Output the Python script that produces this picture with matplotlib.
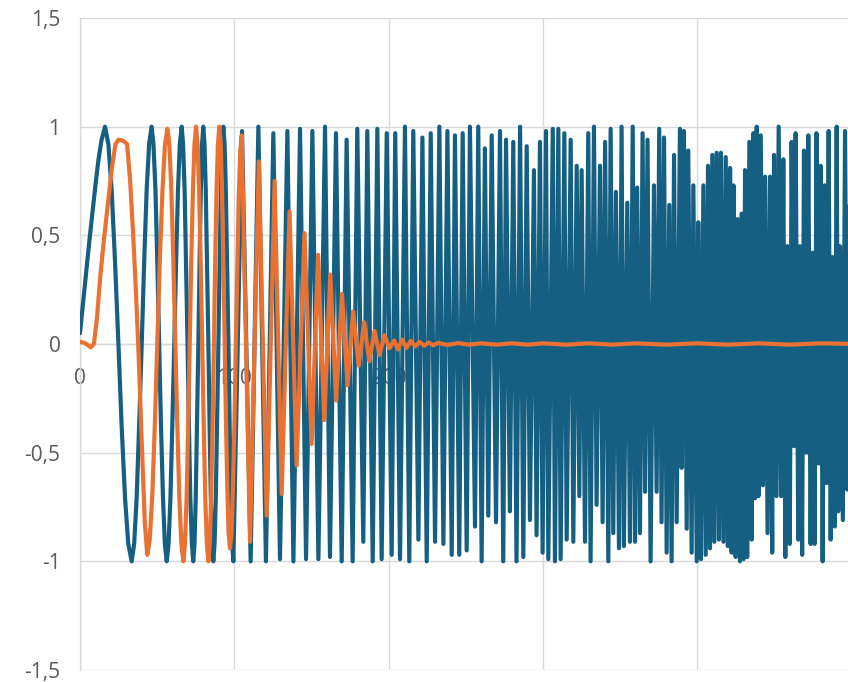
import numpy as np
import matplotlib
matplotlib.use("Agg")
import matplotlib.pyplot as plt

# axis ticks
x_ticks = [0, 100, 200, 300, 400, 500, 600]
x_tick_labels = ["0", "100", "200", "300", "400", "500", "600"]
y_ticks = [-1.5, -1, -0.5, 0, 0.5, 1, 1.5]
y_tick_labels = ["-1,5", "-1", "-0,5", "0", "0,5", "1", "1,5"]

# blue series, first slow cycles
blue_start_x = [0, 2, 4, 6, 8, 10, 12, 14, 16.2,
                18.4, 20.5, 22.7, 24.9, 27.0, 29.2, 31.3, 33.5,
                35.1, 36.7, 38.3, 40.0, 41.6, 43.2, 44.8, 46.4,
                47.6, 48.9, 50.1, 51.3, 52.5, 53.8, 55.0, 56.2,
                57.4, 58.6, 59.8, 61.1, 62.3, 63.5, 64.7, 65.9,
                66.8, 67.8, 68.7, 69.7, 70.6, 71.5, 72.5, 73.4,
                74.2, 75.0, 75.8, 76.7, 77.5, 78.3, 79.1, 79.9,
                80.7, 81.5, 82.3, 83.2, 84.0, 84.8, 85.6, 86.4,
                87.2, 88.0, 88.8, 89.7, 90.5, 91.3, 92.1, 92.9,
                93.7, 94.5, 95.3, 96.2, 97.0, 97.8, 98.6]
blue_start_y = [0.05, 0.19, 0.33, 0.47, 0.60, 0.73, 0.85, 0.94, 1.0,
                0.92, 0.71, 0.38, 0.0, -0.38, -0.71, -0.92, -1.0,
                -0.92, -0.71, -0.38, 0.0, 0.38, 0.71, 0.92, 1.0,
                0.92, 0.71, 0.38, 0.0, -0.38, -0.71, -0.92, -1.0,
                -0.92, -0.71, -0.38, 0.0, 0.38, 0.71, 0.92, 1.0,
                0.92, 0.71, 0.38, 0.0, -0.38, -0.71, -0.92, -1.0,
                -0.92, -0.71, -0.38, 0.0, 0.38, 0.71, 0.92, 1.0,
                0.92, 0.71, 0.38, 0.0, -0.38, -0.71, -0.92, -1.0,
                -0.92, -0.71, -0.38, 0.0, 0.38, 0.71, 0.92, 1.0,
                0.92, 0.71, 0.38, 0.0, -0.38, -0.71, -0.92]

# blue series, peaks and troughs 100..300
blue_mid_x = [99.4, 105.0, 110.6, 115.6, 120.5, 125.3, 129.6, 134.4, 138.3, 142.6, 146.5, 150.6,
              154.5, 158.8, 162.0, 165.9, 169.6, 172.8, 176.7, 179.7, 183.6, 186.2, 189.7, 192.7,
              195.5, 198.8, 202.0, 204.3, 207.4, 210.6, 213.4, 216.0, 219.3, 221.9, 224.7, 227.3,
              230.1, 232.9, 235.5, 238.1, 240.9, 243.0, 245.8, 248.0, 250.6, 252.7, 256.0, 258.1,
              260.3, 262.4, 264.6, 266.8, 269.6, 272.2, 274.3, 276.1, 278.6, 280.8, 282.9, 285.2,
              287.3, 289.5, 291.6, 294.2, 295.9]
blue_mid_y = [-1.0, 0.98, -1.0, 1.0, -1.0, 0.97, -0.99, 0.98, -1.0, 0.99, -0.99, 0.98,
              -0.99, 1.0, -0.98, 0.97, -1.0, 0.94, -1.0, 0.99, -0.91, 0.98, -1.0, 0.99,
              -0.99, 0.97, -0.97, 0.97, -0.99, 1.0, -1.0, 0.98, -0.90, 0.95, -1.0, 0.97,
              -0.91, 1.0, -0.92, 0.98, -0.97, 0.96, -0.97, 0.97, -0.95, 1.0, -0.84, 1.0,
              -1.0, 0.90, -0.79, 0.96, -0.82, 0.98, -1.0, 0.94, -0.77, 0.93, -1.0, 1.0,
              -0.98, 0.91, -0.81, 0.80, -0.88]

# blue series, peaks and troughs 300..400
blue_end_x = [298.1, 299.8, 302.0, 303.5, 306.4, 307.8, 310.0, 311.5, 313.9, 315.4, 318.0, 319.7,
              321.9, 323.6, 325.1, 327.3, 329.4, 330.9, 333.1, 334.8, 337.0, 338.7, 340.3, 342.4,
              343.9, 345.6, 347.3, 349.3, 351.0, 352.5, 354.7, 356.4, 358.2, 359.7, 361.1, 362.9,
              364.6, 366.2, 367.8, 369.8, 372.0, 373.7, 375.4, 376.9, 378.5, 380.2, 381.9, 383.4,
              385.0, 386.7, 388.8, 389.9, 391.4, 393.2, 394.2, 396.4, 397.5, 399.7, 400.7]
blue_end_y = [0.93, -0.96, 0.98, -0.99, 0.99, -1.0, 0.99, -0.99, 0.97, -0.90, 0.94, -0.91,
              0.82, -0.70, 0.80, -0.91, 0.97, -1.0, 1.0, -0.74, 0.82, -0.82, 0.93, -1.0,
              0.99, -0.87, 0.70, -0.94, 1.0, -0.93, 0.65, -0.91, 1.0, -0.91, 0.72, -0.87,
              0.97, -0.68, 0.94, -1.0, 0.73, -0.68, 0.99, -0.82, 0.95, -0.96, 0.64, -1.0,
              0.87, -0.82, 0.99, -0.57, 0.98, -0.85, 0.89, -0.96, 0.73, -1.0, 0.56]

# blue series, peaks and troughs 400..505
blue_tail_x = [402.4, 404.0, 405.5, 407.0, 408.3, 409.8, 411.1, 412.6, 414.1, 415.4, 417.0, 418.5,
               419.8, 421.3, 422.3, 423.5, 424.9, 426.1, 427.7, 428.9, 430.0, 431.0, 432.5, 433.8,
               435.3, 436.4, 437.5, 438.6, 439.7, 441.2, 442.6, 444.0, 445.6, 447.2, 448.6, 449.8,
               451.4, 452.8, 454.4, 455.8, 457.1, 458.4, 460.0, 461.2, 462.7, 463.8, 465.5, 466.6,
               468.0, 469.2, 470.8, 472.0, 473.5, 474.8, 476.1, 477.3, 478.8, 480.0, 481.3, 482.6,
               483.9, 485.2, 486.5, 487.8, 489.1, 490.4, 491.4, 492.6, 494.4, 495.8, 497.3, 498.6,
               500.0, 501.4, 502.8, 504.2]
blue_tail_y = [-0.99, 0.73, -0.97, 0.82, -0.94, 0.87, -0.91, 0.88, -0.90, 0.88, -0.91, 0.86,
               -0.93, 0.81, -0.96, 0.73, -0.98, 0.575, -1.0, 0.60, -0.99, 0.80, -0.98, 0.93,
               -0.90, 0.97, -0.71, 1.0, -0.70, 0.96, -0.65, 0.77, -0.87, 0.77, -0.96, 0.87,
               -0.70, 1.0, -0.70, 0.85, -0.98, 0.45, -0.92, 0.93, -0.47, 0.97, -0.90, 0.45,
               -0.97, 0.89, -0.50, 0.96, -0.92, 0.42, -0.92, 0.97, -0.55, 0.82, -1.0, 0.73,
               -0.64, 0.98, -0.90, 0.40, -0.84, 1.0, -0.77, 0.45, -0.81, 0.98, -0.67, 0.9,
               -0.9, 0.8, -0.9, 0.9]

# orange series, first bump
orange_rise_x = [0, 3, 7, 9, 11, 13, 15.5, 18, 20.5, 23, 25, 28, 30.5, 32.5, 34.5, 36.5, 38, 40,
                 42, 43.6]
orange_rise_y = [0.01, 0.005, -0.015, 0.0, 0.12, 0.30, 0.48, 0.64, 0.80, 0.92, 0.94, 0.935, 0.92,
                 0.75, 0.50, 0.20, -0.05, -0.45, -0.82, -0.97]

# orange series, full swings 45..104
orange_swing_x = [45.2, 46.9, 48.5, 50.1, 51.7, 53.4, 55.0, 56.6,
                  57.9, 59.2, 60.5, 61.8, 63.1, 64.4, 65.7, 67.0,
                  68.0, 69.1, 70.1, 71.1, 72.1, 73.2, 74.2, 75.2,
                  76.2, 77.2, 78.2, 79.2, 80.2, 81.2, 82.2, 83.2,
                  84.1, 85.0, 85.9, 86.8, 87.6, 88.5, 89.4, 90.3,
                  91.2, 92.0, 92.9, 93.8, 94.6, 95.5, 96.3, 97.2,
                  98.2, 99.1, 100.1, 101.0, 102.0, 102.9, 103.9]
orange_swing_y = [-0.90, -0.69, -0.37, 0.0, 0.38, 0.70, 0.91, 0.99,
                  0.92, 0.71, 0.38, 0.0, -0.38, -0.71, -0.92, -1.0,
                  -0.92, -0.71, -0.38, 0.0, 0.38, 0.71, 0.92, 1.0,
                  0.92, 0.71, 0.38, 0.0, -0.38, -0.71, -0.92, -1.0,
                  -0.92, -0.71, -0.38, 0.0, 0.38, 0.71, 0.92, 1.0,
                  0.92, 0.71, 0.38, 0.0, -0.36, -0.67, -0.87, -0.94,
                  -0.87, -0.67, -0.36, 0.0, 0.37, 0.68, 0.89]

# orange series, decaying peaks and troughs
orange_decay_x = [104.8, 110.2, 115.9, 121.0, 126.1, 130.7, 135.8, 140.4, 145.5, 150.1, 154.3, 158.3,
                  162.2, 166.0, 169.8, 173.4, 177.0, 180.6, 184.1, 187.5, 190.9, 194.1, 197.3, 200.5,
                  203.6]
orange_decay_y = [0.96, -0.91, 0.84, -0.79, 0.75, -0.69, 0.61, -0.56, 0.51, -0.46, 0.41, -0.35,
                  0.32, -0.26, 0.23, -0.19, 0.15, -0.10, 0.10, -0.08, 0.06, -0.05, 0.04, -0.02,
                  0.016]

# orange series, tail near zero
orange_tail_x = [206.0, 208.8, 211.6, 214.4, 217.2, 220.0, 223.0, 226.0, 229.0, 232.0, 238, 245,
                 252, 260, 270, 280, 290, 300, 315, 330, 345, 360, 380, 400, 420, 440, 460, 480, 505]
orange_tail_y = [-0.025, 0.02, -0.018, 0.015, -0.012, 0.01, -0.008, 0.007, -0.006, 0.005, -0.004,
                 0.004, -0.003, 0.003, -0.003, 0.003, -0.003, 0.003, -0.003, 0.003, -0.003, 0.003,
                 -0.003, 0.003, -0.003, 0.003, -0.003, 0.003, 0.0]

blue_x = blue_start_x + blue_mid_x + blue_end_x + blue_tail_x
blue_y = blue_start_y + blue_mid_y + blue_end_y + blue_tail_y
orange_x = orange_rise_x + orange_swing_x + orange_decay_x + orange_tail_x
orange_y = orange_rise_y + orange_swing_y + orange_decay_y + orange_tail_y

plt.rcParams['font.family'] = ['Open Sans', 'DejaVu Sans']

W, H = 848, 682
fig = plt.figure(figsize=(W / 100, H / 100), dpi=100)
px_per_unit = 1.543
ax = fig.add_axes([80 / W, 12 / H, 600 * px_per_unit / W, 652 / H])

ax.plot(blue_x, blue_y, color='#156082', lw=3.0, solid_joinstyle='round',
        solid_capstyle='round', zorder=3)
ax.plot(orange_x, orange_y, color='#E97132', lw=3.0, solid_joinstyle='round',
        solid_capstyle='round', zorder=4)

ax.set_xlim(0, 600)
ax.set_ylim(-1.5, 1.5)
ax.set_xticks(x_ticks)
ax.set_xticklabels(x_tick_labels)
ax.set_yticks(y_ticks)
ax.set_yticklabels(y_tick_labels)

ax.grid(True, color='#D9D9D9', lw=1)
ax.set_axisbelow(True)
ax.spines['bottom'].set_position(('data', 0))
for s in ['bottom', 'left']:
    ax.spines[s].set_color('#D9D9D9')
    ax.spines[s].set_linewidth(1)
ax.spines['top'].set_visible(False)
ax.spines['right'].set_visible(False)
ax.tick_params(length=0, colors='#595959', labelsize=15)
ax.tick_params(axis='x', pad=17)
ax.tick_params(axis='y', pad=14)

fig.savefig('out.png', dpi=100)
